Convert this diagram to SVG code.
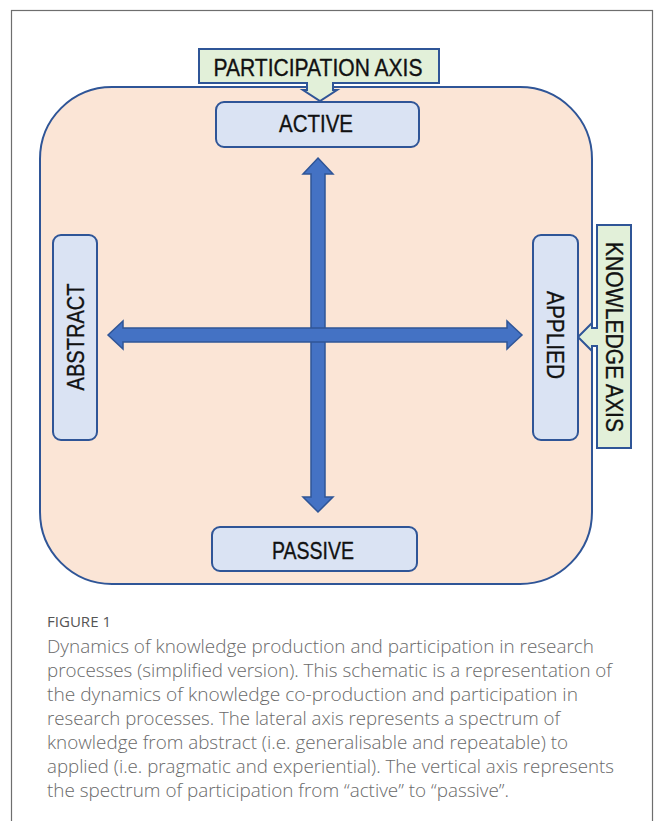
<svg xmlns="http://www.w3.org/2000/svg" width="658" height="821" viewBox="0 0 658 821">
<style>
.lbl{font-family:"Liberation Sans",Arial,sans-serif;font-size:24px;fill:#111;stroke:#111;stroke-width:0.35;text-anchor:middle;dominant-baseline:central}
.node{fill:#dae3f3;stroke:#2f5597;stroke-width:2}
.call{fill:#e2f0d9;stroke:#2f5597;stroke-width:2}
.arr{fill:#4472c4;stroke:#2f5597;stroke-width:1.5}
.cap{font-family:"Open Sans","Liberation Sans",sans-serif;font-size:19px;font-weight:300;fill:#6a6a6a}
</style>
<rect x="0" y="0" width="658" height="821" fill="#fff"/>
<rect x="11.5" y="10.5" width="641" height="820" fill="none" stroke="#6e6e6e" stroke-width="1.2"/>
<g id="frame">
<rect x="40" y="87" width="552" height="497" rx="72" ry="72" fill="#fbe5d6" stroke="#2f5597" stroke-width="2"/>
</g>
<g id="connectors">
<path class="arr" d="M318,158 L333,174 L325,174 L325,497 L333,497 L318,512 L303,497 L311,497 L311,174 L303,174 Z"/>
<path class="arr" d="M108,335 L123,321 L123,328 L507,328 L507,321 L522,335 L507,349 L507,342 L123,342 L123,349 Z"/>
</g>
<g id="participation-axis">
<path class="call" d="M199,49 H439 V83 H333 V90 H337 L320,101 L303,90 H307 V83 H199 Z"/>
<text class="lbl" x="318" y="67" textLength="209" lengthAdjust="spacingAndGlyphs" font-size="24">PARTICIPATION AXIS</text>
</g>
<g id="knowledge-axis">
<path class="call" d="M597,225 H631 V448 H597 V346 H592 V351 L578,337 L592,323 V328 H597 Z"/>
<text class="lbl" transform="translate(614,337) rotate(90)" x="0" y="0" textLength="190" lengthAdjust="spacingAndGlyphs" font-size="25">KNOWLEDGE AXIS</text>
</g>
<g id="active">
<rect class="node" x="216" y="102" width="203" height="45" rx="8"/>
<text class="lbl" x="316" y="123" textLength="74" lengthAdjust="spacingAndGlyphs" font-size="26">ACTIVE</text>
</g>
<g id="passive">
<rect class="node" x="212" y="527" width="205" height="44" rx="8"/>
<text class="lbl" x="313" y="550" textLength="82" lengthAdjust="spacingAndGlyphs" font-size="23">PASSIVE</text>
</g>
<g id="abstract">
<rect class="node" x="53" y="235" width="44" height="205" rx="8"/>
<text class="lbl" transform="translate(75,337) rotate(-90)" x="0" y="0" textLength="107" lengthAdjust="spacingAndGlyphs" font-size="25">ABSTRACT</text>
</g>
<g id="applied">
<rect class="node" x="533" y="235" width="45" height="205" rx="8"/>
<text class="lbl" transform="translate(555,335) rotate(90)" x="0" y="0" textLength="88" lengthAdjust="spacingAndGlyphs" font-size="25">APPLIED</text>
</g>
<g id="caption">
<text x="47" y="627" font-family="'Open Sans','Liberation Sans',sans-serif" font-size="14" fill="#555" textLength="64" lengthAdjust="spacingAndGlyphs">FIGURE 1</text>
<text class="cap" x="47" y="653" textLength="547" lengthAdjust="spacingAndGlyphs">Dynamics of knowledge production and participation in research</text>
<text class="cap" x="47" y="677" textLength="565" lengthAdjust="spacingAndGlyphs">processes (simplified version). This schematic is a representation of</text>
<text class="cap" x="47" y="701" textLength="531" lengthAdjust="spacingAndGlyphs">the dynamics of knowledge co-production and participation in</text>
<text class="cap" x="47" y="725" textLength="513" lengthAdjust="spacingAndGlyphs">research processes. The lateral axis represents a spectrum of</text>
<text class="cap" x="47" y="749" textLength="521" lengthAdjust="spacingAndGlyphs">knowledge from abstract (i.e. generalisable and repeatable) to</text>
<text class="cap" x="47" y="773" textLength="567" lengthAdjust="spacingAndGlyphs">applied (i.e. pragmatic and experiential). The vertical axis represents</text>
<text class="cap" x="47" y="797" textLength="462" lengthAdjust="spacingAndGlyphs">the spectrum of participation from “active” to “passive”.</text>
</g>
</svg>
